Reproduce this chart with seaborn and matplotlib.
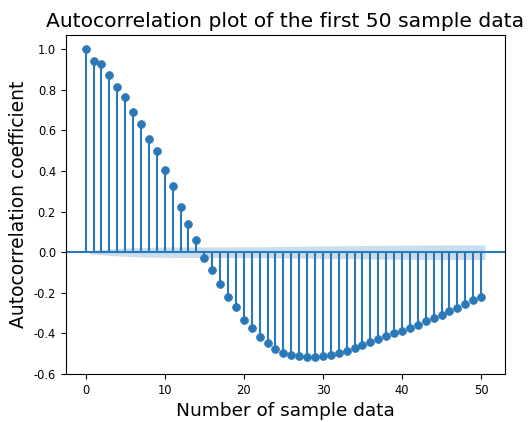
import numpy as np
import pandas as pd
import matplotlib
matplotlib.use("Agg")
import matplotlib.pyplot as plt
import seaborn as sns

plt.rcParams["axes.unicode_minus"] = False

# Autocorrelation coefficients for lags 0..50
lags = list(range(51))
acf_values = [
    1.000, 0.943, 0.925, 0.871, 0.812, 0.763, 0.691, 0.632, 0.556, 0.497,
    0.407, 0.325, 0.225, 0.140, 0.060, -0.028, -0.090, -0.158, -0.220, -0.270,
    -0.333, -0.374, -0.418, -0.448, -0.477, -0.495, -0.505, -0.511, -0.515, -0.516,
    -0.511, -0.508, -0.498, -0.489, -0.470, -0.459, -0.444, -0.426, -0.412, -0.397,
    -0.387, -0.374, -0.360, -0.341, -0.323, -0.310, -0.291, -0.275, -0.255, -0.237,
    -0.219,
]
n_obs = 68000  # number of observations behind the estimates
z_crit = 1.96  # 95% confidence

title = "Autocorrelation plot of the first 50 sample data"
xlabel = "Number of sample data"
ylabel = "Autocorrelation coefficient"

df = pd.DataFrame({"lag": lags, "acf": acf_values})

# Bartlett standard error for the confidence band (lag 0 skipped)
r = df["acf"].to_numpy()
var = np.ones(len(r)) / n_obs
var[2:] *= 1 + 2 * np.cumsum(r[1:-1] ** 2)
half = z_crit * np.sqrt(var[1:])
band_x = df["lag"].to_numpy()[1:].astype(float)
band_x[0] -= 0.5
band_x[-1] += 0.5

color = "#2a78b8"

fig = plt.figure(figsize=(5.32, 4.22), dpi=100)
ax = fig.add_axes([65.7 / 532, 48 / 422, (505 - 65.7) / 532, (374 - 35) / 422])

ax.vlines(df["lag"], 0, df["acf"], color=color, linewidth=1.5)
ax.axhline(0, color=color, linewidth=1.5)
sns.scatterplot(data=df, x="lag", y="acf", ax=ax, color=color, s=32,
                edgecolor=color, linewidth=0.5, zorder=3, legend=False)
ax.fill_between(band_x, -half, half, color=color, alpha=0.25, linewidth=0)

ax.set_xlim(-2.525, 53.025)
ax.set_ylim(-0.6, 1.07)
ax.set_xticks([0, 10, 20, 30, 40, 50])
ax.set_yticks(np.arange(-0.6, 1.01, 0.2))
ax.yaxis.set_major_formatter(matplotlib.ticker.FormatStrFormatter("%.1f"))
ax.tick_params(labelsize=8.3, length=3.5)

ax.set_title(title, fontsize=14.6)
ax.set_xlabel(xlabel, fontsize=13.3)
ax.set_ylabel(ylabel, fontsize=13.5)

fig.savefig("out.png", dpi=100)
